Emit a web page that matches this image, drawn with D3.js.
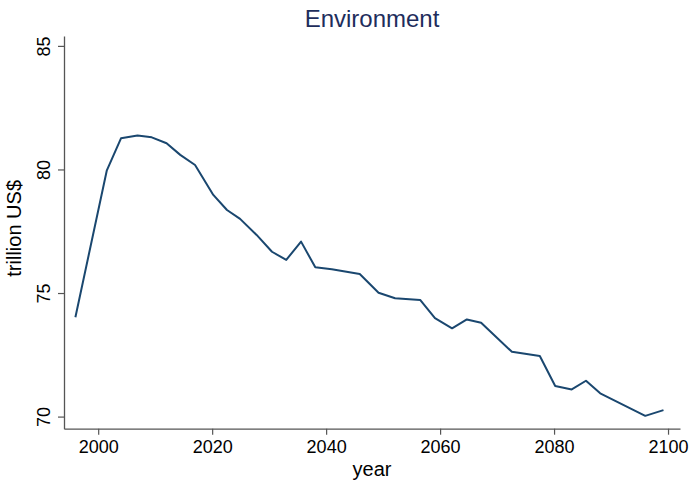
<!DOCTYPE html>
<html>
<head>
<meta charset="utf-8">
<script src="https://cdn.jsdelivr.net/npm/d3@7"></script>
<style>
  html, body { margin: 0; padding: 0; background: #fff; }
  svg { display: block; font-family: "Liberation Sans", Arial, sans-serif; }
</style>
</head>
<body>
<svg id="chart" width="690" height="484"></svg>
<script>
// Environment value by year, trillion US$
const years = [1996.0, 2001.5, 2004.0, 2006.9, 2009.4, 2012.0, 2014.4, 2017.0, 2020.2, 2022.6,
               2024.9, 2027.8, 2030.5, 2033.0, 2035.6, 2038.1, 2041.0, 2045.9, 2049.2, 2052.1,
               2056.5, 2059.1, 2062.1, 2064.7, 2067.2, 2072.6, 2077.5, 2080.2, 2083.1, 2085.6,
               2088.1, 2096.0, 2099.2];
const values = [74.02, 79.95, 81.26, 81.37, 81.30, 81.06, 80.59, 80.18, 78.97, 78.36,
                78.00, 77.35, 76.67, 76.34, 77.08, 76.04, 75.96, 75.77, 75.01, 74.79,
                74.72, 73.98, 73.57, 73.93, 73.80, 72.62, 72.45, 71.24, 71.10, 71.45,
                70.94, 70.03, 70.26];
const xTicks = [2000, 2020, 2040, 2060, 2080, 2100];
const yTicks = [70, 75, 80, 85];
const titleText = "Environment";
const xTitle = "year";
const yTitle = "trillion US$";

const svg = d3.select("#chart");
const plotLeft = 64, plotRight = 680, plotTop = 36, plotBottom = 428.7;

const x = d3.scaleLinear().domain([1994, 2102.1]).range([plotLeft, plotRight]);
const y = d3.scaleLinear().domain([69.51, 85.4]).range([plotBottom, plotTop]);

const axisColor = "#555";

// x axis
const gx = svg.append("g").attr("transform", `translate(0,${plotBottom})`)
  .call(d3.axisBottom(x).tickValues(xTicks).tickFormat(d3.format("d")).tickSize(6).tickPadding(6).tickSizeOuter(0));
gx.select(".domain").attr("stroke", axisColor).attr("stroke-width", 1.3);
gx.selectAll(".tick line").attr("stroke", axisColor).attr("stroke-width", 1.2);
gx.selectAll(".tick text").attr("fill", "#000").attr("font-size", 18)
  .attr("font-family", "Liberation Sans, Arial, sans-serif");

// y axis with vertical tick labels
const gy = svg.append("g").attr("transform", `translate(${plotLeft},0)`)
  .call(d3.axisLeft(y).tickValues(yTicks).tickFormat(d3.format("d")).tickSize(6).tickSizeOuter(0));
gy.select(".domain").attr("stroke", axisColor).attr("stroke-width", 1.3);
gy.selectAll(".tick line").attr("stroke", axisColor).attr("stroke-width", 1.2);
gy.selectAll(".tick text")
  .attr("fill", "#000").attr("font-size", 18)
  .attr("font-family", "Liberation Sans, Arial, sans-serif")
  .attr("x", null).attr("dy", null)
  .attr("text-anchor", "middle")
  .attr("transform", "translate(-14,0) rotate(-90)");

// series line
const line = d3.line().x((d, i) => x(years[i])).y(d => y(d));
svg.append("path")
  .datum(values)
  .attr("d", line)
  .attr("fill", "none")
  .attr("stroke", "#1a476f")
  .attr("stroke-width", 2)
  .attr("stroke-linejoin", "round");

// titles
svg.append("text")
  .attr("x", (plotLeft + plotRight) / 2).attr("y", 27)
  .attr("text-anchor", "middle")
  .attr("font-size", 24)
  .attr("fill", "#1e2d5c")
  .text(titleText);

svg.append("text")
  .attr("x", (plotLeft + plotRight) / 2).attr("y", 476)
  .attr("text-anchor", "middle")
  .attr("font-size", 20)
  .attr("fill", "#000")
  .text(xTitle);

svg.append("text")
  .attr("transform", `translate(21,${(plotTop + plotBottom) / 2 - 4}) rotate(-90)`)
  .attr("text-anchor", "middle")
  .attr("font-size", 20)
  .attr("fill", "#000")
  .text(yTitle);
</script>
</body>
</html>
